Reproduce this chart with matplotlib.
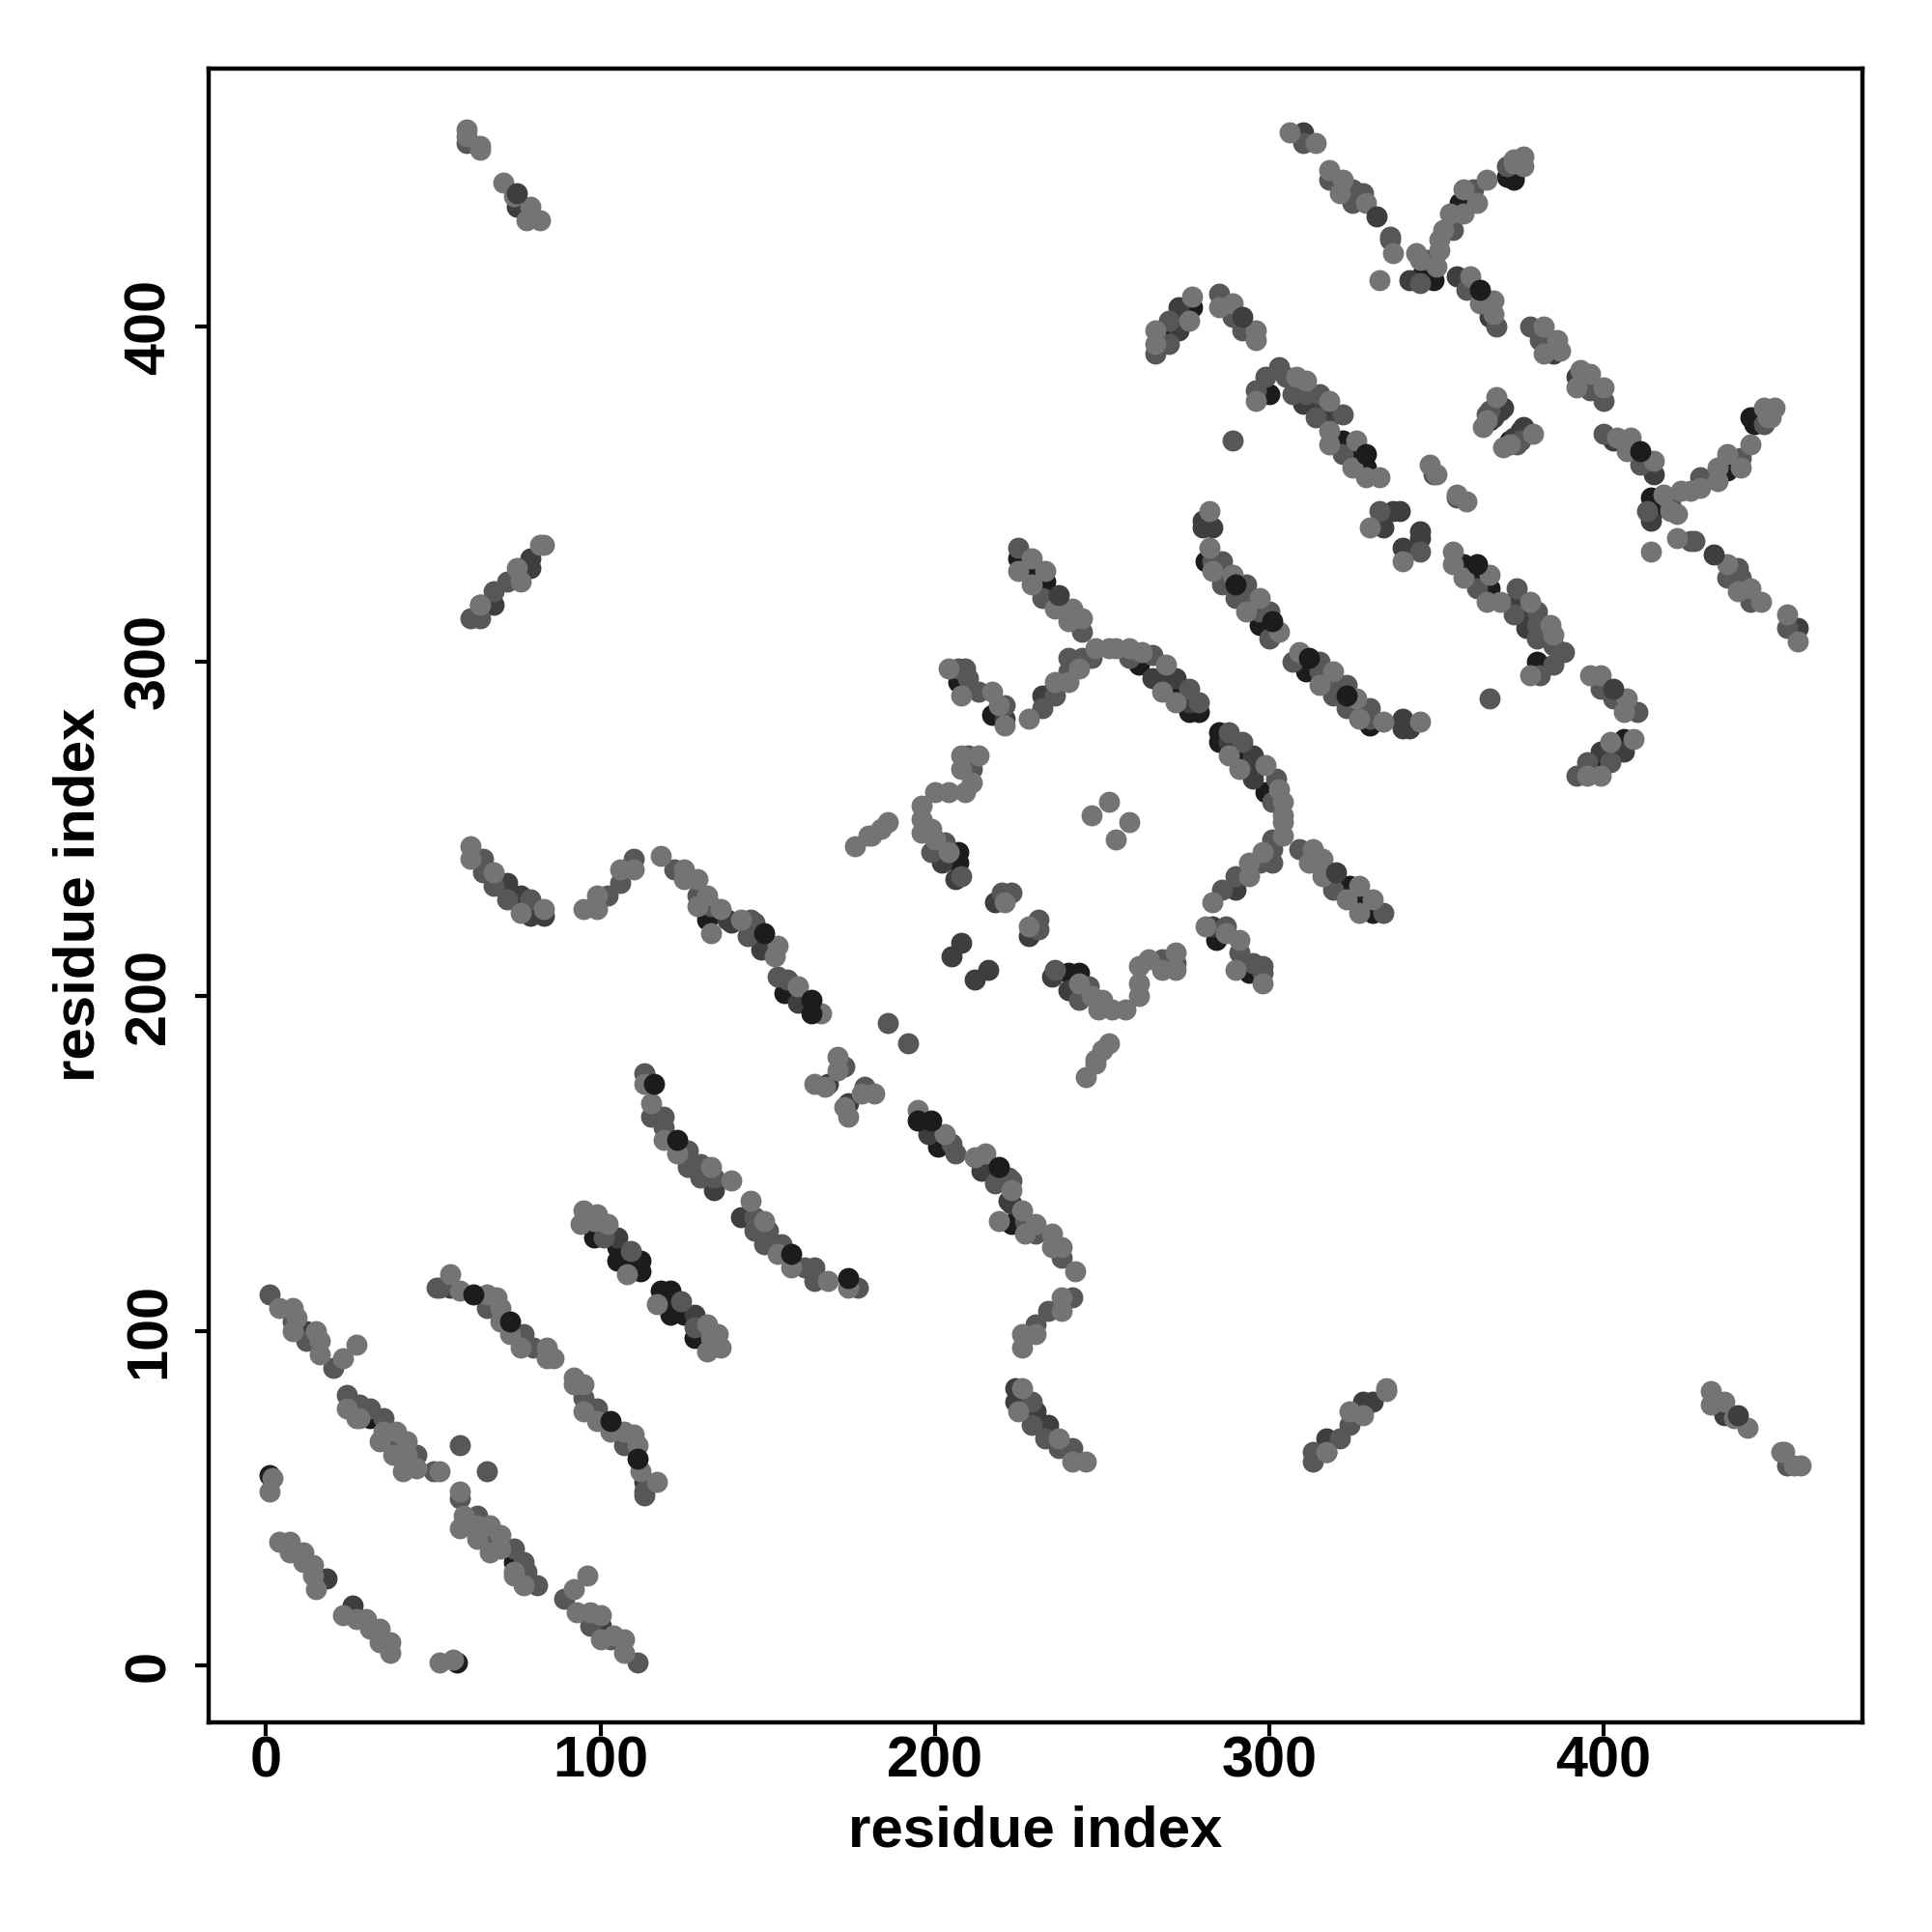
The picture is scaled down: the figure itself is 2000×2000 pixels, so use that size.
import matplotlib
matplotlib.use('Agg')
import matplotlib.pyplot as plt

# contacts (i < j), mirrored when plotted, grouped by grey level of the dot
contacts_black = [
    (64,317),(79,226),(132,223),(155,201),(202,242),(207,243),(207,240),(207,294),(217,284),
    (261,299),(272,291),(276,285),(279,285),(269,399),(277,406),(300,380),(322,366),(325,362),
    (329,358),(281,330),(297,311),(320,444),(346,416),(349,414),(357,437),(373,444),(373,445),
    (371,445),(225,331),(228,327),(232,324),(233,324),(1,57),(31,74),(98,128),(105,125),
    (105,121),(109,120),(112,121),(112,118),(366,372),
]
contacts_dark = [
    (75,436),(79,331),(79,328),(68,317),(76,230),(72,234),(83,224),(79,224),(69,234),(138,223),
    (139,222),(148,214),(159,198),(168,174),(205,212),(208,216),(202,240),(206,235),(218,228),
    (232,290),(265,295),(268,295),(272,295),(276,288),(221,283),(273,406),(273,399),(310,377),
    (314,377),(318,373),(369,375),(337,345),(339,345),(334,340),(280,342),(283,340),(280,340),
    (310,458),(342,414),(356,415),(366,403),(385,392),(134,142),(18,26),(55,113),(105,128),
    (12,100),(367,373),(370,376),
]
contacts_dim = [
    (60,455),(72,324),(68,321),(61,313),(64,313),(65,241),(65,237),(68,233),(72,229),(79,229),
    (102,230),(106,234),(110,241),(122,238),(129,230),(133,227),(145,223),(144,218),(146,222),
    (153,206),(156,205),(186,192),(173,179),(203,246),(199,243),(208,236),(210,272),(211,268),
    (207,298),(209,298),(210,295),(213,291),(221,287),(232,286),(236,290),(240,297),(240,301),
    (244,301),(247,301),(258,301),(265,302),(276,292),(279,288),(220,231),(223,231),(270,402),
    (270,395),(266,392),(285,410),(289,403),(292,399),(296,381),(299,385),(303,388),(305,385),
    (307,380),(311,380),(315,380),(314,373),(322,374),(322,362),(349,356),(333,345),(289,366),
    (283,330),(286,330),(286,327),(286,323),(293,323),(290,319),(294,319),(297,315),(300,315),
    (300,307),(310,455),(318,444),(325,441),(328,440),(325,437),(336,427),(336,426),(347,420),
    (345,413),(355,429),(361,441),(371,448),(359,411),(368,400),(378,400),(381,396),(225,334),
    (232,319),(244,309),(113,177),(115,164),(119,164),(119,161),(126,154),(126,149),(130,150),
    (130,146),(134,146),(1,111),(8,103),(12,97),(20,89),(24,81),(28,78),(31,77),(35,74),(39,67),
    (45,63),(50,58),(58,66),(51,113),(52,113),(66,107),(77,99),(80,95),(101,128),(109,124),
    (365,374),(366,375),
]
contacts_mid = [
    (60,459),(60,457),(64,454),(64,453),(71,443),(74,439),(79,436),(78,432),(82,432),(82,335),
    (83,335),(75,328),(76,324),(64,317),(61,245),(61,241),(68,237),(76,225),(83,226),(95,226),
    (99,226),(99,230),(106,238),(110,238),(118,242),(125,238),(125,235),(129,235),(132,230),
    (129,227),(133,219),(136,226),(142,223),(153,215),(152,212),(159,203),(166,195),(171,182),
    (171,178),(164,174),(167,173),(176,245),(180,248),(181,248),(184,250),(186,252),(196,257),
    (196,253),(199,250),(196,249),(200,247),(204,243),(213,272),(208,272),(208,268),(211,264),
    (209,261),(204,261),(200,261),(204,298),(208,290),(217,291),(221,281),(219,287),(228,283),
    (236,294),(240,294),(243,298),(248,304),(252,304),(254,304),(258,304),(262,303),(269,299),
    (268,291),(272,288),(221,228),(252,258),(247,254),(277,409),(276,402),(266,399),(266,395),
    (285,406),(289,407),(296,399),(296,396),(296,378),(308,385),(311,384),(318,378),(318,369),
    (318,365),(326,366),(325,358),(329,355),(333,355),(368,379),(364,370),(348,359),(350,356),
    (330,340),(282,345),(282,334),(283,327),(289,326),(297,319),(293,315),(303,309),(306,458),
    (314,455),(318,447),(322,444),(321,440),(329,437),(337,422),(333,414),(344,422),(345,420),
    (350,418),(351,423),(351,426),(352,429),(354,434),(358,434),(362,437),(358,441),(365,444),
    (373,450),(376,451),(376,448),(373,449),(360,415),(363,407),(367,408),(367,404),(382,400),
    (386,396),(387,393),(382,392),(225,327),(229,331),(229,323),(233,327),(236,316),(241,316),
    (240,312),(244,313),(113,174),(115,168),(119,157),(123,153),(133,149),(139,145),(2,56),(1,52),
    (4,107),(8,107),(9,104),(8,100),(15,100),(16,97),(16,93),(23,92),(27,96),(24,77),(27,74),
    (28,74),(35,70),(39,70),(34,67),(42,67),(38,63),(42,63),(41,58),(45,59),(52,58),(4,37),(7,37),
    (7,34),(11,34),(11,31),(14,30),(14,27),(15,23),(55,117),(58,112),(66,111),(69,110),(70,107),
    (70,103),(73,99),(76,95),(84,95),(84,92),(86,92),(95,136),(99,135),(94,132),(98,133),(102,132),
    (108,117),(365,372),
]
# these sit on top of their lighter neighbours in the original
contacts_top = [
    (149,219),(62,111),(73,103),(123,157),(116,174),(163,199),(163,195),(363,411),(290,323),
    (301,312),(329,362),
]
contacts_top_dark = [(75,440),(237,320),(292,403),(332,433)]

ticks = [0, 100, 200, 300, 400]
axis_label = 'residue index'

plt.rcParams['font.family'] = ['Liberation Sans', 'DejaVu Sans']
plt.rcParams['font.weight'] = 'bold'

fig = plt.figure(figsize=(10, 10), dpi=200)
ax = fig.add_axes([0.1078, 0.1085, 0.8562, 0.8562])

def draw(pairs, grey):
    xs = [p[0] for p in pairs] + [p[1] for p in pairs]
    ys = [p[1] for p in pairs] + [p[0] for p in pairs]
    ax.scatter(xs, ys, s=62, c=grey, linewidths=0, clip_on=False)

draw(contacts_black, '#1c1c1c')
draw(contacts_dark, '#3e3e3e')
draw(contacts_dim, '#575757')
draw(contacts_mid, '#747474')
draw(contacts_top_dark, '#3e3e3e')
draw(contacts_top, '#1c1c1c')

ax.set_xlim(-17.3, 477.4)
ax.set_ylim(-16.9, 477.3)
ax.set_xticks(ticks)
ax.set_yticks(ticks)
ax.tick_params(length=5, width=1.5, labelsize=21.4)
ax.tick_params(axis='x', pad=0)
ax.tick_params(axis='y', pad=7)
for lab in ax.get_yticklabels():
    lab.set_rotation(90)
    lab.set_va('center')
for sp in ax.spines.values():
    sp.set_linewidth(1.6)

ax.set_xlabel(axis_label, fontsize=21.6, fontweight='bold', labelpad=6)
ax.set_ylabel(axis_label, fontsize=21.6, fontweight='bold', labelpad=6.5)

fig.savefig('out.png', dpi=200)
